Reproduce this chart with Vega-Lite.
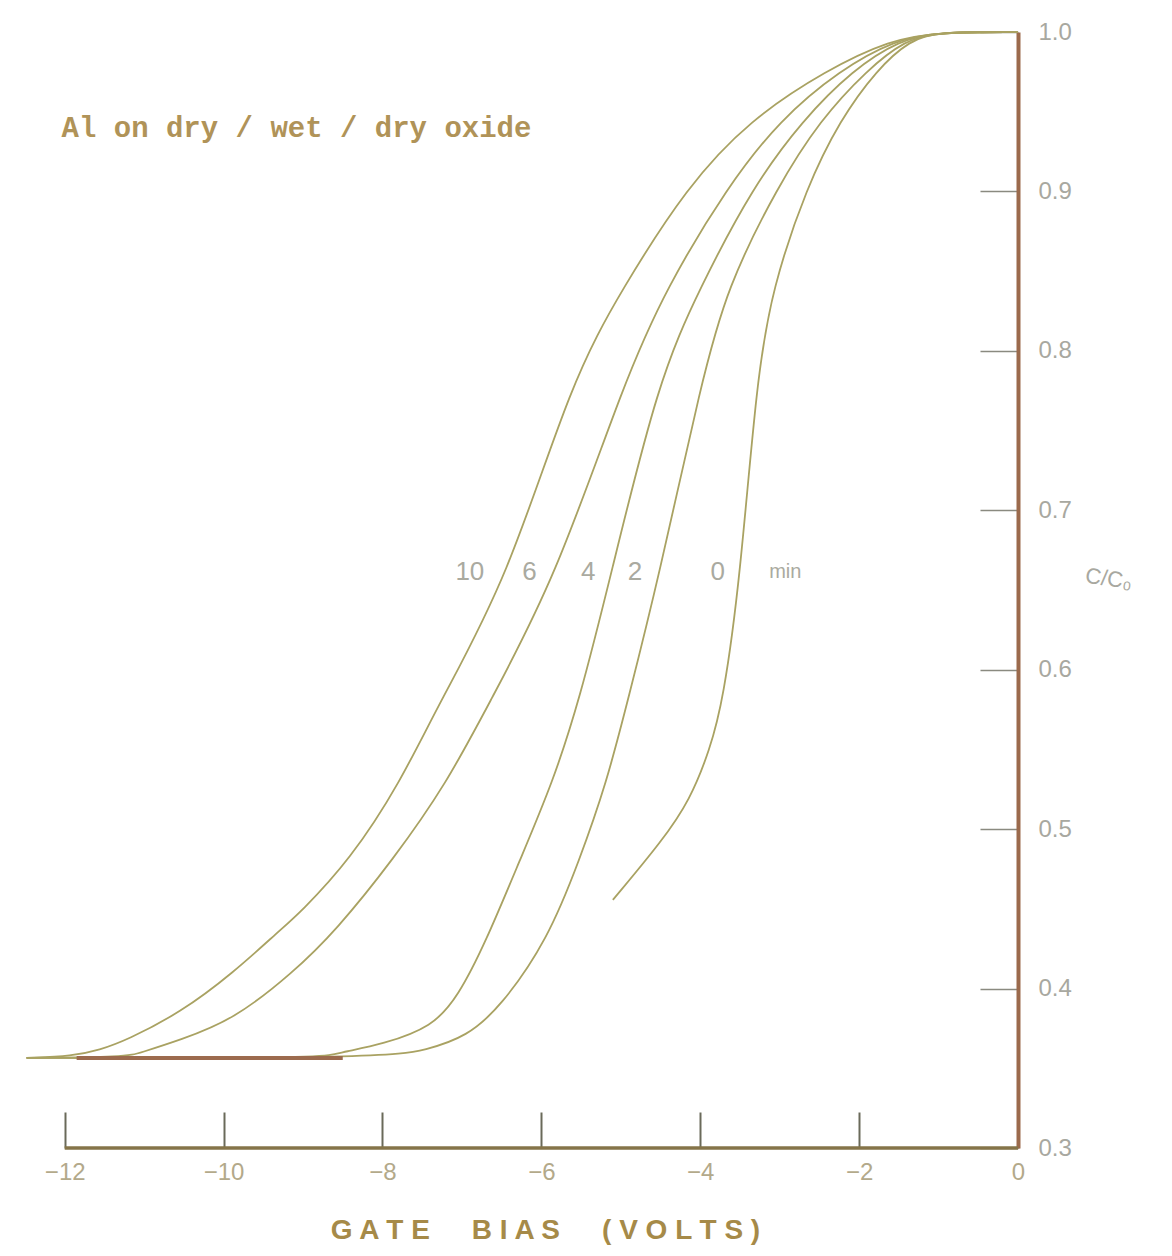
{
  "$schema": "https://vega.github.io/schema/vega-lite/v6.json",
  "width": 993,
  "height": 1116,
  "autosize": {"type": "none"},
  "padding": {"left": 25, "top": 32, "right": 154, "bottom": 108},
  "background": "white",
  "config": {
    "view": {"stroke": null},
    "axis": {"grid": false}
  },
  "datasets": {
    "curves": [
      {"minutes": "10", "bias": -12.48, "ratio": 0.3565},
      {"minutes": "10", "bias": -11.90, "ratio": 0.3577},
      {"minutes": "10", "bias": -11.56, "ratio": 0.3615},
      {"minutes": "10", "bias": -11.22, "ratio": 0.3677},
      {"minutes": "10", "bias": -10.55, "ratio": 0.3847},
      {"minutes": "10", "bias": -9.88, "ratio": 0.4098},
      {"minutes": "10", "bias": -9.29, "ratio": 0.4367},
      {"minutes": "10", "bias": -9.04, "ratio": 0.4474},
      {"minutes": "10", "bias": -8.41, "ratio": 0.4806},
      {"minutes": "10", "bias": -7.78, "ratio": 0.5289},
      {"minutes": "10", "bias": -7.30, "ratio": 0.5779},
      {"minutes": "10", "bias": -6.43, "ratio": 0.6563},
      {"minutes": "10", "bias": -5.62, "ratio": 0.7817},
      {"minutes": "10", "bias": -4.97, "ratio": 0.8400},
      {"minutes": "10", "bias": -4.17, "ratio": 0.9028},
      {"minutes": "10", "bias": -3.38, "ratio": 0.9448},
      {"minutes": "10", "bias": -2.41, "ratio": 0.9762},
      {"minutes": "10", "bias": -1.61, "ratio": 0.9950},
      {"minutes": "10", "bias": -1.00, "ratio": 1.0},
      {"minutes": "10", "bias": 0, "ratio": 1.0},

      {"minutes": "6", "bias": -12.48, "ratio": 0.3565},
      {"minutes": "6", "bias": -11.22, "ratio": 0.3571},
      {"minutes": "6", "bias": -11.06, "ratio": 0.3596},
      {"minutes": "6", "bias": -10.55, "ratio": 0.3677},
      {"minutes": "6", "bias": -9.88, "ratio": 0.3803},
      {"minutes": "6", "bias": -9.13, "ratio": 0.4098},
      {"minutes": "6", "bias": -8.58, "ratio": 0.4367},
      {"minutes": "6", "bias": -7.87, "ratio": 0.4806},
      {"minutes": "6", "bias": -7.19, "ratio": 0.5289},
      {"minutes": "6", "bias": -6.67, "ratio": 0.5779},
      {"minutes": "6", "bias": -5.83, "ratio": 0.6563},
      {"minutes": "6", "bias": -4.95, "ratio": 0.7817},
      {"minutes": "6", "bias": -4.42, "ratio": 0.8400},
      {"minutes": "6", "bias": -3.66, "ratio": 0.9028},
      {"minutes": "6", "bias": -3.00, "ratio": 0.9448},
      {"minutes": "6", "bias": -2.24, "ratio": 0.9762},
      {"minutes": "6", "bias": -1.55, "ratio": 0.9950},
      {"minutes": "6", "bias": -1.00, "ratio": 1.0},
      {"minutes": "6", "bias": 0, "ratio": 1.0},

      {"minutes": "4", "bias": -12.48, "ratio": 0.3565},
      {"minutes": "4", "bias": -9.04, "ratio": 0.3565},
      {"minutes": "4", "bias": -8.63, "ratio": 0.3583},
      {"minutes": "4", "bias": -8.50, "ratio": 0.3602},
      {"minutes": "4", "bias": -8.00, "ratio": 0.3650},
      {"minutes": "4", "bias": -7.37, "ratio": 0.3760},
      {"minutes": "4", "bias": -7.05, "ratio": 0.3950},
      {"minutes": "4", "bias": -6.71, "ratio": 0.4280},
      {"minutes": "4", "bias": -6.27, "ratio": 0.4806},
      {"minutes": "4", "bias": -5.86, "ratio": 0.5289},
      {"minutes": "4", "bias": -5.52, "ratio": 0.5810},
      {"minutes": "4", "bias": -5.14, "ratio": 0.6563},
      {"minutes": "4", "bias": -4.53, "ratio": 0.7817},
      {"minutes": "4", "bias": -4.00, "ratio": 0.8400},
      {"minutes": "4", "bias": -3.34, "ratio": 0.9028},
      {"minutes": "4", "bias": -2.71, "ratio": 0.9448},
      {"minutes": "4", "bias": -2.08, "ratio": 0.9762},
      {"minutes": "4", "bias": -1.49, "ratio": 0.9950},
      {"minutes": "4", "bias": -1.00, "ratio": 1.0},
      {"minutes": "4", "bias": 0, "ratio": 1.0},

      {"minutes": "2", "bias": -12.48, "ratio": 0.3565},
      {"minutes": "2", "bias": -8.00, "ratio": 0.3565},
      {"minutes": "2", "bias": -7.44, "ratio": 0.3615},
      {"minutes": "2", "bias": -6.94, "ratio": 0.3700},
      {"minutes": "2", "bias": -6.52, "ratio": 0.3880},
      {"minutes": "2", "bias": -5.92, "ratio": 0.4305},
      {"minutes": "2", "bias": -5.52, "ratio": 0.4806},
      {"minutes": "2", "bias": -5.18, "ratio": 0.5289},
      {"minutes": "2", "bias": -4.91, "ratio": 0.5810},
      {"minutes": "2", "bias": -4.53, "ratio": 0.6563},
      {"minutes": "2", "bias": -3.98, "ratio": 0.7817},
      {"minutes": "2", "bias": -3.66, "ratio": 0.8400},
      {"minutes": "2", "bias": -3.03, "ratio": 0.9028},
      {"minutes": "2", "bias": -2.49, "ratio": 0.9448},
      {"minutes": "2", "bias": -1.90, "ratio": 0.9762},
      {"minutes": "2", "bias": -1.42, "ratio": 0.9950},
      {"minutes": "2", "bias": -1.00, "ratio": 1.0},
      {"minutes": "2", "bias": 0, "ratio": 1.0},

      {"minutes": "0", "bias": -5.10, "ratio": 0.4556},
      {"minutes": "0", "bias": -4.47, "ratio": 0.4932},
      {"minutes": "0", "bias": -4.13, "ratio": 0.5183},
      {"minutes": "0", "bias": -3.88, "ratio": 0.5496},
      {"minutes": "0", "bias": -3.71, "ratio": 0.5810},
      {"minutes": "0", "bias": -3.50, "ratio": 0.6563},
      {"minutes": "0", "bias": -3.29, "ratio": 0.7817},
      {"minutes": "0", "bias": -3.09, "ratio": 0.8400},
      {"minutes": "0", "bias": -2.66, "ratio": 0.9028},
      {"minutes": "0", "bias": -2.24, "ratio": 0.9448},
      {"minutes": "0", "bias": -1.78, "ratio": 0.9762},
      {"minutes": "0", "bias": -1.36, "ratio": 0.9950},
      {"minutes": "0", "bias": -1.00, "ratio": 1.0},
      {"minutes": "0", "bias": 0, "ratio": 1.0}
    ],
    "axisline": [{"bias": -12, "bias_end": 0, "ratio": 0.3}],
    "floor": [{"bias": -11.85, "bias_end": -8.5, "ratio": 0.3565}],
    "note": [{"bias": -12.04, "ratio": 0.9398, "text": "Al on dry / wet / dry oxide"}],
    "tags": [
      {"bias": -6.90, "ratio": 0.6613, "text": "10"},
      {"bias": -6.15, "ratio": 0.6613, "text": "6"},
      {"bias": -5.41, "ratio": 0.6613, "text": "4"},
      {"bias": -4.82, "ratio": 0.6613, "text": "2"},
      {"bias": -3.78, "ratio": 0.6613, "text": "0"}
    ],
    "unit": [{"bias": -2.93, "ratio": 0.6613, "text": "min"}]
  },
  "layer": [
    {
      "data": {"name": "curves"},
      "mark": {"type": "line", "interpolate": "basis", "color": "#a9a262", "strokeWidth": 1.8},
      "encoding": {
        "x": {
          "field": "bias",
          "type": "quantitative",
          "scale": {"domain": [-12.5, 0], "nice": false, "zero": false},
          "axis": {
            "values": [-12, -10, -8, -6, -4, -2, 0],
            "format": "d",
            "domain": false,
            "tickSize": -36,
            "tickColor": "#6a6a5a",
            "tickWidth": 2,
            "labelPadding": 48,
            "labelFont": "Liberation Sans",
            "labelFontSize": 24,
            "labelColor": "#b3a98a",
            "labelFlush": false,
            "labelOverlap": false,
            "title": "G A T E\u2003\u2002B I A S\u2003\u2002( V O L T S )",
            "titleFont": "Liberation Sans",
            "titleFontSize": 28,
            "titleFontWeight": "bold",
            "titleColor": "#a68a48",
            "titleX": 520,
            "titleY": 82,
            "titleAlign": "center",
            "titleBaseline": "middle"
          }
        },
        "y": {
          "field": "ratio",
          "type": "quantitative",
          "scale": {"domain": [0.3, 1.0], "nice": false, "zero": false},
          "axis": {
            "orient": "right",
            "values": [0.3, 0.4, 0.5, 0.6, 0.7, 0.8, 0.9, 1.0],
            "format": ".1f",
            "domainColor": "#9b6a4c",
            "domainWidth": 4,
            "tickSize": -38,
            "tickColor": "#8a8a80",
            "tickWidth": 1.5,
            "labelPadding": 58,
            "labelFont": "Liberation Sans",
            "labelFontSize": 24,
            "labelColor": "#a8a8a0",
            "labelFlush": false,
            "labelOverlap": false,
            "title": "C/C₀",
            "titleFont": "Liberation Sans",
            "titleFontSize": 22,
            "titleFontWeight": "normal",
            "titleColor": "#a8a8a0",
            "titleAngle": 8,
            "titleX": 67,
            "titleY": 543,
            "titleAlign": "left",
            "titleBaseline": "middle"
          }
        },
        "detail": {"field": "minutes", "type": "nominal"}
      }
    },
    {
      "data": {"name": "axisline"},
      "mark": {"type": "rule", "color": "#857449", "strokeWidth": 3.5},
      "encoding": {
        "x": {"field": "bias", "type": "quantitative"},
        "x2": {"field": "bias_end"},
        "y": {"field": "ratio", "type": "quantitative"}
      }
    },
    {
      "data": {"name": "floor"},
      "mark": {"type": "rule", "color": "#9c6b4e", "strokeWidth": 4},
      "encoding": {
        "x": {"field": "bias", "type": "quantitative"},
        "x2": {"field": "bias_end"},
        "y": {"field": "ratio", "type": "quantitative"}
      }
    },
    {
      "data": {"name": "note"},
      "mark": {"type": "text", "align": "left", "baseline": "middle", "font": "Liberation Mono", "fontSize": 29, "fontWeight": "bold", "color": "#b09358"},
      "encoding": {
        "x": {"field": "bias", "type": "quantitative"},
        "y": {"field": "ratio", "type": "quantitative"},
        "text": {"field": "text"}
      }
    },
    {
      "data": {"name": "tags"},
      "mark": {"type": "text", "align": "center", "baseline": "middle", "font": "Liberation Sans", "fontSize": 26, "color": "#aaaaa0"},
      "encoding": {
        "x": {"field": "bias", "type": "quantitative"},
        "y": {"field": "ratio", "type": "quantitative"},
        "text": {"field": "text"}
      }
    },
    {
      "data": {"name": "unit"},
      "mark": {"type": "text", "align": "center", "baseline": "middle", "font": "Liberation Sans", "fontSize": 20, "color": "#aaaaa0"},
      "encoding": {
        "x": {"field": "bias", "type": "quantitative"},
        "y": {"field": "ratio", "type": "quantitative"},
        "text": {"field": "text"}
      }
    }
  ]
}
